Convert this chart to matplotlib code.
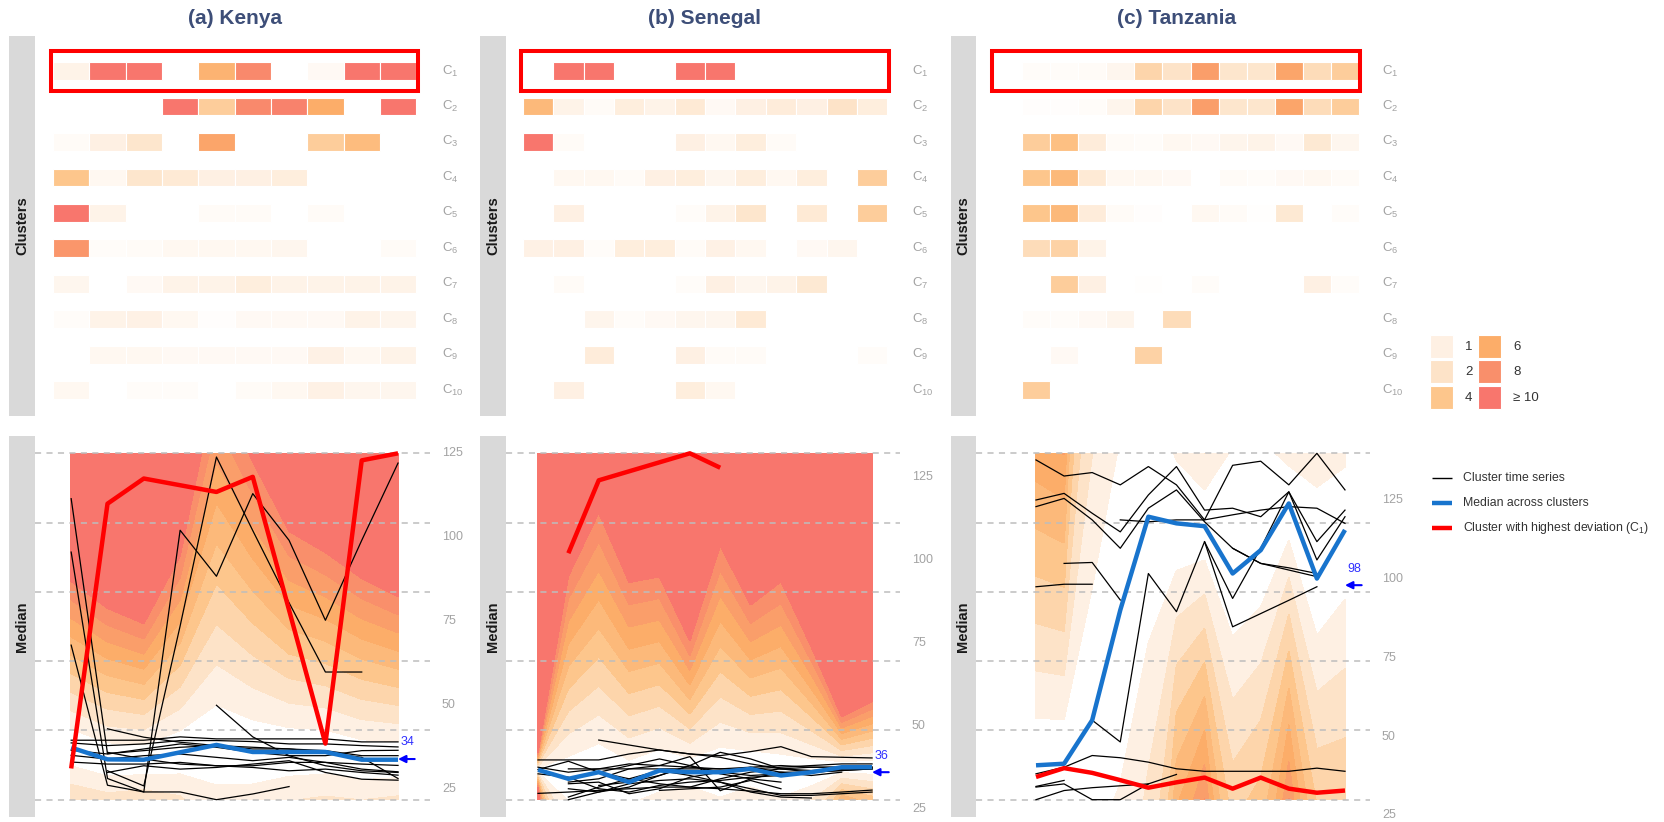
import numpy as np
import matplotlib.pyplot as plt
from matplotlib.colors import LinearSegmentedColormap
from matplotlib.patches import Rectangle
from matplotlib.lines import Line2D
from matplotlib.transforms import blended_transform_factory

plt.rcParams['font.family'] = ['Liberation Sans', 'DejaVu Sans']
plt.rcParams['mathtext.fontset'] = 'custom'
plt.rcParams['mathtext.rm'] = 'Liberation Sans'
plt.rcParams['mathtext.it'] = 'Liberation Sans:italic'
plt.rcParams['mathtext.bf'] = 'Liberation Sans:bold'

W, H = 1665, 822
nan = np.nan

# deviation colour scale
dev_breaks = [0, 1, 2, 4, 6, 8, 10]
dev_colors = ['#FFFFFF', '#FEF0E2', '#FDE3C8', '#FDC68C', '#FCAD69', '#F98F6B', '#F8766D']
legend_values = [1, 2, 4, 6, 8, 10]
legend_labels = ['1', '2', '4', '6', '8', '≥ 10']
cluster_names = ['C$_{%d}$' % i for i in range(1, 11)]
axis_ticks = [25, 50, 75, 100, 125]

# ---------------- Kenya ----------------
ke_time = np.arange(1, 11)
ke_heat_time = np.arange(1, 11)
ke_heat = [
    [0.8, 10, 10, nan, 5.5, 8.5, nan, 0.4, 10, 10],
    [nan, nan, nan, 10, 3.5, 8.5, 9, 6, nan, 10],
    [0.3, 1.0, 1.8, nan, 6.5, nan, nan, 3.5, 4.8, nan],
    [4.0, 0.5, 1.8, 1.5, 1.0, 1.0, 1.2, nan, nan, nan],
    [10, 0.8, nan, nan, 0.3, 0.3, nan, 0.3, nan, nan],
    [7.5, 0.2, 0.3, 0.5, 0.5, 0.5, 0.6, nan, nan, 0.3],
    [0.6, nan, 0.4, 0.8, 0.8, 1.2, 0.8, 0.8, 0.8, 0.8],
    [0.2, 0.8, 0.9, 0.5, 0.15, 0.4, 0.4, 0.4, 0.8, 0.7],
    [nan, 0.5, 0.5, 0.4, 0.4, 0.4, 0.4, 0.9, 0.5, 0.8],
    [0.5, nan, 0.2, 0.2, nan, 0.3, 0.5, 0.9, 0.6, 0.6],
]
ke_median = [37.4, 33.9, 33.8, 36.0, 38.2, 36.1, 36.1, 36.1, 33.8, 33.8]
ke_spread_up = [5.5, 5.0, 4.5, 6.5, 12.0, 9.6, 7.3, 6.6, 6.0, 5.4]
ke_spread_down = [5.5, 5.0, 4.5, 6.5, 12.0, 9.6, 7.3, 6.6, 6.0, 5.4]
ke_c1 = [31.2, 110.0, 117.5, nan, 113.5, 118.0, nan, 38.6, 122.9, 125.0]
ke_series = [
    [111.5, 35.6, 36.5, 37.5, 38.0, 37.5, 37.0, 36.5, 35.0, 35.0],
    [95.6, 28.2, 24.2, 102.1, 88.4, 113.0, 99.1, 75.3, 99.1, 122.1],
    [67.9, 26.2, 24.2, 24.2, 21.9, 23.6, 25.8, nan, nan, nan],
    [nan, 30.5, 26.0, 73.6, 123.9, 102.0, 80.5, 59.9, 59.9, nan],
    [nan, nan, nan, nan, 50.0, 40.6, 35.0, 32.0, 30.5, 30.0],
    [nan, 43.0, 40.5, 39.0, 38.0, 37.0, 37.0, 36.0, 34.5, 28.2],
    [39.6, 39.6, 39.6, 40.6, 40.0, 40.0, 40.0, 40.0, 39.1, 39.1],
    [38.8, 38.0, 38.5, 39.5, 39.5, 39.2, 38.5, 38.5, 38.0, 37.6],
    [36.6, 35.5, 37.0, 38.5, 37.5, 36.0, 35.0, 35.0, 36.5, 36.6],
    [35.1, 34.0, 35.0, 35.5, 34.5, 33.5, 34.5, 33.0, 32.5, 32.1],
    [33.1, 32.5, 32.5, 33.0, 32.0, 32.0, 33.0, 33.0, 31.0, 30.2],
    [nan, 36.0, 34.0, 32.5, 32.0, 31.5, 30.5, 31.0, 30.0, 29.2],
    [nan, 30.0, 32.0, 31.0, 31.5, 32.5, 33.5, 30.0, 28.0, 27.7],
]
ke_overall = 34

# ---------------- Senegal ----------------
sn_time = np.arange(1, 13)
sn_heat_time = np.arange(1, 13)
sn_heat = [
    [nan, 10, 10, nan, nan, 10, 10, nan, nan, nan, nan, nan],
    [5.0, 0.8, 0.3, 1.2, 0.8, 1.5, 0.4, 1.0, 1.3, 1.0, 2.0, 1.2],
    [10, 0.3, nan, nan, nan, 1.0, 0.5, 1.2, 0.3, nan, nan, nan],
    [nan, 0.5, 0.5, 0.3, 1.0, 1.2, 0.6, 1.2, 0.5, 1.2, nan, 3.5],
    [nan, 1.0, nan, nan, nan, 0.2, 0.8, 1.8, nan, 1.5, nan, 3.5],
    [0.9, 1.0, 0.2, 1.2, 1.2, 0.3, 0.9, 0.5, nan, 0.4, 0.6, nan],
    [nan, 0.3, nan, nan, nan, 0.2, 1.0, 0.6, 0.8, 1.6, nan, nan],
    [nan, nan, 0.7, 0.2, 0.4, 0.6, 0.6, 1.5, nan, nan, nan, nan],
    [nan, nan, 1.3, nan, nan, 1.0, 0.3, 0.3, nan, nan, nan, 0.2],
    [nan, 1.0, nan, nan, nan, 1.2, 0.5, nan, nan, nan, nan, nan],
]
sn_median = [36.7, 34.0, 36.0, 33.0, 36.5, 36.0, 36.0, 37.0, 35.0, 36.0, 37.5, 37.5]
sn_spread_up = [0.6, 6.8, 8.7, 6.7, 6.5, 4.4, 7.6, 5.5, 6.5, 4.2, 1.7, 2.2]
sn_spread_down = [0.6, 6.8, 8.7, 6.7, 6.5, 4.4, 7.6, 5.5, 6.5, 4.2, 1.7, 2.2]
sn_c1 = [nan, 102.1, 124.1, nan, nan, 132.25, 127.9, nan, nan, nan, nan, nan]
sn_series = [
    [nan, nan, 45.7, 44.2, 42.7, 41.5, 40.5, 38.5, 37.0, 37.5, 37.5, nan],
    [39.7, 39.7, 39.7, 41.5, 42.7, 41.5, 41.0, 42.2, 43.7, 40.7, 40.5, 40.3],
    [36.8, 39.3, 36.0, 34.0, 32.5, 31.5, 34.0, 36.0, 37.0, 36.5, 37.0, 37.5],
    [nan, nan, 32.0, 33.0, 35.0, 38.0, 42.0, 40.0, 37.0, 36.0, 36.5, 37.0],
    [nan, 33.0, 34.0, 37.0, 38.0, 40.7, 30.4, 34.0, 36.0, 36.0, 37.0, 37.5],
    [nan, nan, nan, nan, 30.5, 31.0, 31.5, 33.5, 31.0, nan, nan, nan],
    [29.6, 30.0, 30.5, 31.0, 31.5, 31.5, 31.0, 30.3, 29.5, 29.5, 30.0, 30.6],
    [nan, 27.7, 30.0, 32.5, 33.5, 34.0, 33.0, 31.0, 29.0, 29.0, 29.5, 30.0],
    [nan, 28.5, 31.5, 34.0, 36.5, 35.0, 33.0, 30.0, 28.5, 28.2, nan, nan],
    [37.5, 36.0, 37.0, 38.5, 38.0, 37.5, 37.0, 37.5, 38.0, 37.5, 37.5, 37.5],
    [nan, 37.0, 37.0, 37.0, 37.0, 37.0, 37.0, 37.0, 37.5, 38.0, 38.5, 38.5],
    [nan, 31.0, 30.0, 31.5, 35.0, 38.0, 35.5, 34.0, 33.0, nan, nan, nan],
    [nan, 32.5, 33.0, 29.5, 31.0, 34.5, 36.0, 37.5, 36.0, 35.0, 36.0, nan],
    [35.5, 34.5, 31.0, 30.0, 32.0, 33.0, 33.5, 34.5, 35.0, 36.0, 36.5, 37.0],
    [nan, 34.0, 36.0, 38.0, 40.0, 38.0, 36.0, 35.0, 35.5, 36.0, 37.0, 37.0],
]
sn_overall = 36

# ---------------- Tanzania ----------------
tz_time = np.arange(1, 13)
tz_heat_time = np.arange(0, 13)
tz_heat = [
    [nan, 0.2, 0.2, 0.3, 0.6, 3.0, 2.0, 7.0, 1.8, 1.8, 6.5, 2.5, 3.5],
    [nan, 0.15, 0.15, 0.2, 0.7, 3.0, 2.0, 7.0, 1.8, 1.8, 6.5, 2.5, 3.5],
    [nan, 3.5, 4.5, 1.3, 0.3, 0.2, 0.5, 0.4, 0.7, 0.8, 0.4, 1.6, 0.6],
    [nan, 4.0, 5.0, 1.5, 0.5, 0.5, 0.4, nan, 0.3, 0.2, 0.4, 0.5, 0.3],
    [nan, 4.0, 5.0, 1.3, 0.3, 0.15, nan, 0.5, 0.3, 0.1, 1.6, nan, 0.2],
    [nan, 2.5, 3.2, 0.8, nan, nan, nan, nan, nan, nan, nan, nan, nan],
    [nan, nan, 3.5, 1.0, nan, 0.1, nan, 0.2, nan, nan, nan, 1.0, 0.2],
    [nan, 0.2, 0.2, 0.4, 0.7, nan, 2.5, nan, nan, nan, nan, nan, nan],
    [nan, nan, 0.4, nan, nan, 3.2, nan, nan, nan, nan, nan, nan, nan],
    [nan, 3.5, nan, nan, nan, nan, nan, nan, nan, nan, nan, nan, nan],
]
tz_median = [40.9, 41.4, 55.2, 90.1, 119.7, 117.6, 116.7, 101.7, 109.1, 123.9, 100.1, 115.5]
tz_spread_up = [15.0, 14.0, 42.0, 55.0, 40.0, 20.0, 11.5, 40.0, 35.0, 12.0, 29.0, 20.0]
tz_spread_down = [15.0, 14.0, 42.0, 55.0, 40.0, 15.0, 10.8, 20.0, 18.0, 11.7, 18.0, 22.0]
tz_c1 = [37.2, 40.0, 38.5, 36.2, 33.8, 35.5, 37.0, 33.5, 37.0, 33.5, 32.2, 32.9]
tz_series = [
    [137.7, 132.6, 133.7, 129.8, 135.6, 129.8, 118.7, 136.0, 137.3, 129.8, 139.8, 128.2],
    [125.0, 127.1, 120.8, 114.9, 126.6, 135.6, 121.8, 122.4, 119.7, 127.6, 111.8, 121.8],
    [122.9, 125.5, 118.7, 109.7, 122.4, 128.2, 118.1, 109.7, 104.9, 103.5, 101.7, nan],
    [nan, nan, nan, 118.7, 118.1, 118.7, 118.7, 120.3, 121.8, 122.9, 122.4, 117.6],
    [nan, 104.9, 105.2, 93.3, nan, nan, nan, nan, nan, nan, nan, nan],
    [97.5, 98.3, 98.3, nan, nan, nan, nan, nan, nan, nan, nan, nan],
    [nan, nan, 55.2, 48.3, 101.7, 89.6, 111.8, 93.8, 109.7, 127.6, 106.0, 119.7],
    [nan, nan, nan, nan, nan, nan, 111.8, 84.8, 89.0, 93.2, 97.5, nan],
    [nan, nan, nan, nan, nan, nan, nan, 109.7, 104.9, 102.8, 100.7, nan],
    [38.2, 40.3, 44.0, 43.3, 41.9, 39.8, 39.0, 39.0, 39.0, 39.0, 40.0, 39.0],
    [34.0, 35.0, 30.0, 30.0, 35.0, 38.0, nan, nan, nan, nan, nan, nan],
    [30.0, 32.9, 33.8, 34.4, 35.0, nan, nan, nan, nan, nan, nan, nan],
    [34.2, 36.1, nan, nan, nan, nan, nan, nan, nan, nan, nan, nan],
]
tz_overall = 98

countries = [
    dict(title='(a) Kenya', time=ke_time, heat_time=ke_heat_time, heat=ke_heat, median=ke_median,
         up=ke_spread_up, down=ke_spread_down, c1=ke_c1, series=ke_series, overall=ke_overall),
    dict(title='(b) Senegal', time=sn_time, heat_time=sn_heat_time, heat=sn_heat, median=sn_median,
         up=sn_spread_up, down=sn_spread_down, c1=sn_c1, series=sn_series, overall=sn_overall),
    dict(title='(c) Tanzania', time=tz_time, heat_time=tz_heat_time, heat=tz_heat, median=tz_median,
         up=tz_spread_up, down=tz_spread_down, c1=tz_c1, series=tz_series, overall=tz_overall),
]

# layout in pixels of the reference picture
layouts = [
    dict(strip=(9, 35), panel=(35, 430), xlim=(0.004, 10.88), title_x=235),
    dict(strip=(480, 506), panel=(506, 900), xlim=(-0.054, 12.92), title_x=705),
    dict(strip=(951, 976), panel=(976, 1370), xlim=(-1.136, 12.89), title_x=1177),
]
TOP = (36, 416)
BOT = (436, 817)

cmap = LinearSegmentedColormap.from_list('dev', list(zip(np.array(dev_breaks) / 10, dev_colors)))
LABEL_GREY = '#A3A3A3'
BLUE = '#1874CD'


def px_axes(fig, x0, x1, y0, y1, **kw):
    return fig.add_axes([x0 / W, 1 - y1 / H, (x1 - x0) / W, (y1 - y0) / H], **kw)


def draw_strip(fig, xs, ys, label):
    ax = px_axes(fig, xs[0], xs[1], ys[0], ys[1])
    ax.set_facecolor('#D9D9D9')
    ax.set_xticks([])
    ax.set_yticks([])
    for sp in ax.spines.values():
        sp.set_visible(False)
    ax.text(0.5, 0.5, label, rotation=90, ha='center', va='center', fontsize=10.5,
            fontweight='bold', color='#1A1A1A', transform=ax.transAxes)


def draw_country(fig, lay, d):
    x0, x1 = lay['panel']
    lx = 1 + 12 / (x1 - x0)
    fig.text(lay['title_x'] / W, 1 - 18 / H, d['title'], ha='center', va='center',
             fontsize=15, fontweight='bold', color='#3D4E78')
    draw_strip(fig, lay['strip'], TOP, 'Clusters')
    draw_strip(fig, lay['strip'], BOT, 'Median')

    # heatmap of deviations
    ax = px_axes(fig, x0, x1, TOP[0], TOP[1])
    ax.set_xlim(lay['xlim'])
    ax.set_ylim(10.73, 0.012)
    ax.axis('off')
    ht = d['heat_time']
    for i, row in enumerate(d['heat']):
        for t, v in zip(ht, row):
            if np.isnan(v):
                continue
            ax.add_patch(Rectangle((t - 0.5, i + 1 - 0.25), 1, 0.5, fc=cmap(min(v, 10) / 10),
                                   ec='white', lw=0.8))
    ax.add_patch(Rectangle((ht[0] - 0.55, 0.435), ht[-1] - ht[0] + 1.1, 1.13, fill=False,
                           ec='#FF0000', lw=2.9, clip_on=False, zorder=5))
    tr = blended_transform_factory(ax.transAxes, ax.transData)
    for i, name in enumerate(cluster_names):
        ax.text(lx, i + 1, name, transform=tr, ha='left', va='center', fontsize=9.5,
                color=LABEL_GREY)

    # time series panel
    t = np.asarray(d['time'], float)
    series = np.array(d['series'], float)
    med = np.asarray(d['median'], float)
    c1 = np.asarray(d['c1'], float)
    ymin = np.nanmin([np.nanmin(series), np.nanmin(c1), med.min()])
    ymax = np.nanmax([np.nanmax(series), np.nanmax(c1), med.max()])
    pad = 0.05 * (ymax - ymin)
    ax = px_axes(fig, x0, x1, BOT[0], BOT[1])
    ax.set_facecolor('none')
    ax.set_xlim(lay['xlim'])
    ax.set_ylim(ymin - pad, ymax + pad)
    ax.axis('off')

    xs = np.linspace(t[0], t[-1], 700)
    ys = np.linspace(ymin, ymax, 700)
    m = np.interp(xs, t, med)[None, :]
    su = np.interp(xs, t, d['up'])[None, :]
    sd = np.interp(xs, t, d['down'])[None, :]
    Y = ys[:, None]
    dev = np.where(Y >= m, (Y - m) / su, (m - Y) / sd)
    levels = [0, 1, 2, 3, 4, 5, 6, 7, 8, 9, 1e6]
    colors = [cmap(min(v, 10) / 10) for v in [0, 1, 2, 3, 4, 5, 6, 7, 8, 10]]
    cs = ax.contourf(xs, ys, dev, levels=levels, colors=colors, zorder=0)
    cs.set_edgecolor('face')
    cs.set_linewidth(0.3)

    for g in np.linspace(ymin, ymax, 6):
        ax.axhline(g, color='#BDBDBD', lw=1.1, ls=(0, (4, 3.5)), zorder=1)

    for row in series:
        ok = ~np.isnan(row)
        ax.plot(t[ok], row[ok], color='black', lw=0.9, zorder=2)
    ax.plot(t, med, color=BLUE, lw=3.2, zorder=3, solid_capstyle='butt')
    ok = ~np.isnan(c1)
    ax.plot(t[ok], c1[ok], color='#FF0000', lw=3.2, zorder=4, solid_capstyle='butt')

    tr = blended_transform_factory(ax.transAxes, ax.transData)
    lo, hi = ax.get_ylim()
    for v in axis_ticks:
        if lo <= v <= hi:
            ax.text(lx, v, str(v), transform=tr, ha='left', va='center', fontsize=9,
                    color=LABEL_GREY)

    ax.annotate('', xy=(t[-1], d['overall']), xytext=(12, 0), textcoords='offset points',
                arrowprops=dict(arrowstyle='-|>', color='#0000FF', lw=1.5, mutation_scale=11,
                                shrinkA=0, shrinkB=0), annotation_clip=False, zorder=6)
    ax.annotate(str(d['overall']), xy=(t[-1], d['overall']), xytext=(2, 12),
                textcoords='offset points', ha='left', va='center', fontsize=9,
                color='#2F2FFF', annotation_clip=False)


fig = plt.figure(figsize=(W / 100, H / 100), dpi=100)
over = fig.add_axes([0, 0, 1, 1])
over.set_xlim(0, W)
over.set_ylim(H, 0)
over.axis('off')

for lay, d in zip(layouts, countries):
    draw_country(fig, lay, d)

# colour legend
sq = 23
for k, (v, lab) in enumerate(zip(legend_values, legend_labels)):
    col, r = divmod(k, 3)
    x = 1430 + col * 48
    y = 335 + r * 25.5
    over.add_patch(Rectangle((x, y), sq, sq, fc=cmap(v / 10), ec='white', lw=0.8))
    over.text(x + sq + 12, y + sq / 2, lab, ha='left', va='center', fontsize=9.5, color='#333333')

# line legend
legend_lines = [('Cluster time series', 'black', 1.0),
                ('Median across clusters', BLUE, 3.2),
                ('Cluster with highest deviation (C$_{1}$)', '#FF0000', 3.2)]
for k, (lab, c, lw) in enumerate(legend_lines):
    y = 478 + k * 25
    over.add_line(Line2D([1432, 1452], [y, y], color=c, lw=lw, solid_capstyle='butt'))
    over.text(1463, y, lab, ha='left', va='center', fontsize=8.8, color='#333333')

fig.savefig('out.png', dpi=100)
